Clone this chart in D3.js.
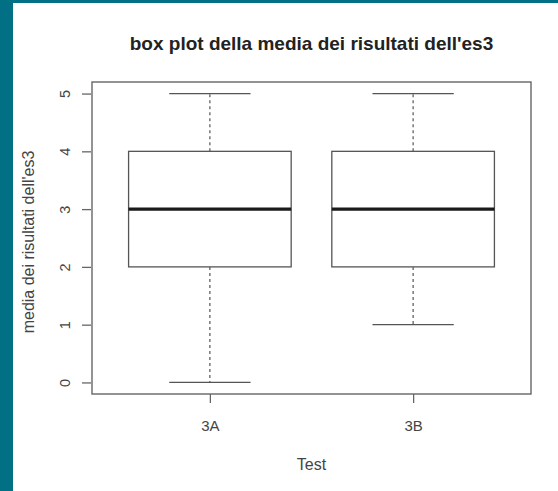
<!DOCTYPE html>
<html><head><meta charset="utf-8">
<script src="https://cdn.jsdelivr.net/npm/d3@7"></script>
<style>html,body{margin:0;padding:0;background:#016f84;}svg{display:block;}</style>
</head><body>
<svg id="c" width="558" height="491"></svg>
<script>
const categories = ["3A", "3B"];
const mins = [0, 1];
const q1s = [2, 2];
const medians = [3, 3];
const q3s = [4, 4];
const maxs = [5, 5];
const yTicks = [0, 1, 2, 3, 4, 5];
const title = "box plot della media dei risultati dell'es3";
const yTitle = "media dei risultati dell'es3";
const xTitle = "Test";

const svg = d3.select("#c");
const font = "'Liberation Sans', Arial, sans-serif";
const lineCol = "#555";
svg.append("rect").attr("x", 13).attr("y", 3).attr("width", 545).attr("height", 488).attr("fill", "#fff");

const L = 92, R = 531, T = 82, B = 394;
const x = d3.scaleLinear().domain([0.42, 2.58]).range([L, R]);
const y = d3.scaleLinear().domain([-0.2, 5.2]).range([B, T]);

const data = categories.map((c, i) => ({c, i: i + 1, min: mins[i], q1: q1s[i], med: medians[i], q3: q3s[i], max: maxs[i]}));

// frame
svg.append("rect").attr("x", L).attr("y", T).attr("width", R - L).attr("height", B - T)
  .attr("fill", "none").attr("stroke", "#666").attr("stroke-width", 1.4);

// y axis
const yAxis = d3.axisLeft(y).tickValues(yTicks).tickSize(9).tickFormat(d3.format("d"));
const gy = svg.append("g").attr("transform", `translate(${L - 1},0)`).call(yAxis);
gy.select(".domain").remove();
gy.selectAll(".tick line").attr("stroke", "#666").attr("stroke-width", 1.3);
gy.selectAll(".tick text").attr("font-family", font).attr("font-size", 14.5).attr("fill", "#444")
  .attr("x", 0).attr("y", 0).attr("dy", "0.35em").attr("text-anchor", "middle")
  .attr("transform", "translate(-26,0) rotate(-90)");

// x axis
const xAxis = d3.axisBottom(x).tickValues(data.map(d => d.i)).tickSize(9)
  .tickFormat((d, i) => categories[i]);
const gx = svg.append("g").attr("transform", `translate(0,${B})`).call(xAxis);
gx.select(".domain").remove();
gx.selectAll(".tick line").attr("stroke", "#666").attr("stroke-width", 1.3);
gx.selectAll(".tick text").attr("font-family", font).attr("font-size", 15).attr("fill", "#444")
  .attr("y", 37).attr("dy", 0);

// boxes
const bw = 0.4, cw = 0.2;
const g = svg.append("g");
data.forEach(d => {
  const cx = x(d.i);
  g.append("line").attr("x1", cx).attr("x2", cx).attr("y1", y(d.q3)).attr("y2", y(d.max))
    .attr("stroke", lineCol).attr("stroke-width", 1.2).attr("stroke-dasharray", "3,3");
  g.append("line").attr("x1", cx).attr("x2", cx).attr("y1", y(d.q1)).attr("y2", y(d.min))
    .attr("stroke", lineCol).attr("stroke-width", 1.2).attr("stroke-dasharray", "3,3");
  [d.min, d.max].forEach(v => g.append("line").attr("x1", x(d.i - cw)).attr("x2", x(d.i + cw))
    .attr("y1", y(v)).attr("y2", y(v)).attr("stroke", lineCol).attr("stroke-width", 1.3));
  g.append("rect").attr("x", x(d.i - bw)).attr("y", y(d.q3)).attr("width", x(d.i + bw) - x(d.i - bw))
    .attr("height", y(d.q1) - y(d.q3)).attr("fill", "#fff").attr("stroke", lineCol).attr("stroke-width", 1.3);
  g.append("line").attr("x1", x(d.i - bw)).attr("x2", x(d.i + bw)).attr("y1", y(d.med)).attr("y2", y(d.med))
    .attr("stroke", "#1a1a1a").attr("stroke-width", 3.2);
});

// titles
svg.append("text").attr("x", (L + R) / 2).attr("y", 50).attr("text-anchor", "middle")
  .attr("font-family", font).attr("font-weight", "bold").attr("font-size", 19).attr("fill", "#222").text(title);
svg.append("text").attr("x", (L + R) / 2).attr("y", 470).attr("text-anchor", "middle")
  .attr("font-family", font).attr("font-size", 16).attr("fill", "#444").text(xTitle);
svg.append("text").attr("transform", `translate(34,${(T + B) / 2 + 4}) rotate(-90)`).attr("text-anchor", "middle")
  .attr("font-family", font).attr("font-size", 16).attr("fill", "#444").text(yTitle);
</script>
</body></html>
